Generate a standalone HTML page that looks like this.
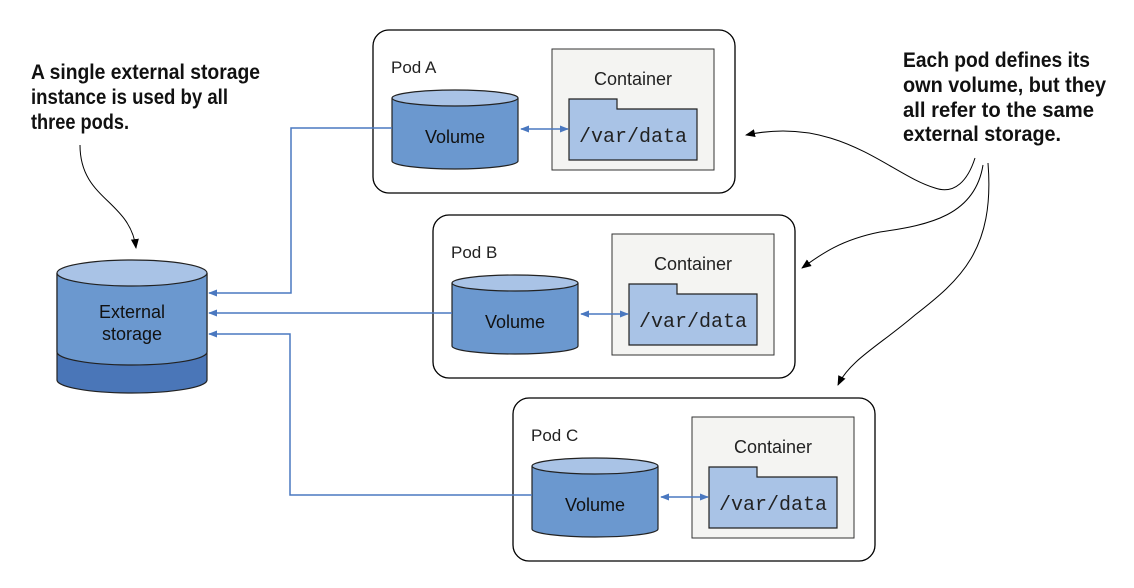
<!DOCTYPE html>
<html><head><meta charset="utf-8"><style>html,body{margin:0;padding:0;background:#fff}svg{display:block}</style></head>
<body>
<svg width="1134" height="588" viewBox="0 0 1134 588" xmlns="http://www.w3.org/2000/svg">
<defs>
<marker id="bh" viewBox="0 0 10 10" refX="9" refY="5" markerWidth="9" markerHeight="9" orient="auto-start-reverse" markerUnits="userSpaceOnUse"><path d="M0,1 L10,5 L0,9 z" fill="#4a78c0"/></marker>
<marker id="kh" viewBox="0 0 10 10" refX="9" refY="5" markerWidth="10" markerHeight="10" orient="auto" markerUnits="userSpaceOnUse"><path d="M0,1 L10,5 L0,9 z" fill="#000"/></marker>
</defs>

<g transform="translate(373,30)">
 <rect x="0" y="0" width="362" height="163" rx="16" fill="#fff" stroke="#000" stroke-width="1.3"/>
 <rect x="179" y="19" width="162" height="121" fill="#f4f4f2" stroke="#333" stroke-width="1"/>
 <path d="M196,69 H244 V79 H324 V130 H196 Z" fill="#a9c3e6" stroke="#222" stroke-width="1.2"/>
 <path d="M19,68 V131 A63,8 0 0 0 145,131 V68" fill="#6b98cf" stroke="#222" stroke-width="1.2"/>
 <ellipse cx="82" cy="68" rx="63" ry="8" fill="#a9c3e6" stroke="#222" stroke-width="1.2"/>
 <line x1="148" y1="99" x2="195" y2="99" stroke="#4a78c0" stroke-width="1.5" marker-start="url(#bh)" marker-end="url(#bh)"/>
 <text x="18" y="43" font-family="Liberation Sans, sans-serif" font-size="17" fill="#222">Pod A</text>
 <text x="260" y="55" text-anchor="middle" font-family="Liberation Sans, sans-serif" font-size="18" fill="#222">Container</text>
 <text x="82" y="113" text-anchor="middle" font-family="Liberation Sans, sans-serif" font-size="18" fill="#111">Volume</text>
 <text x="260" y="112" text-anchor="middle" font-family="Liberation Mono, monospace" font-size="20" fill="#222">/var/data</text>
</g>
<g transform="translate(433,215)">
 <rect x="0" y="0" width="362" height="163" rx="16" fill="#fff" stroke="#000" stroke-width="1.3"/>
 <rect x="179" y="19" width="162" height="121" fill="#f4f4f2" stroke="#333" stroke-width="1"/>
 <path d="M196,69 H244 V79 H324 V130 H196 Z" fill="#a9c3e6" stroke="#222" stroke-width="1.2"/>
 <path d="M19,68 V131 A63,8 0 0 0 145,131 V68" fill="#6b98cf" stroke="#222" stroke-width="1.2"/>
 <ellipse cx="82" cy="68" rx="63" ry="8" fill="#a9c3e6" stroke="#222" stroke-width="1.2"/>
 <line x1="148" y1="99" x2="195" y2="99" stroke="#4a78c0" stroke-width="1.5" marker-start="url(#bh)" marker-end="url(#bh)"/>
 <text x="18" y="43" font-family="Liberation Sans, sans-serif" font-size="17" fill="#222">Pod B</text>
 <text x="260" y="55" text-anchor="middle" font-family="Liberation Sans, sans-serif" font-size="18" fill="#222">Container</text>
 <text x="82" y="113" text-anchor="middle" font-family="Liberation Sans, sans-serif" font-size="18" fill="#111">Volume</text>
 <text x="260" y="112" text-anchor="middle" font-family="Liberation Mono, monospace" font-size="20" fill="#222">/var/data</text>
</g>
<g transform="translate(513,398)">
 <rect x="0" y="0" width="362" height="163" rx="16" fill="#fff" stroke="#000" stroke-width="1.3"/>
 <rect x="179" y="19" width="162" height="121" fill="#f4f4f2" stroke="#333" stroke-width="1"/>
 <path d="M196,69 H244 V79 H324 V130 H196 Z" fill="#a9c3e6" stroke="#222" stroke-width="1.2"/>
 <path d="M19,68 V131 A63,8 0 0 0 145,131 V68" fill="#6b98cf" stroke="#222" stroke-width="1.2"/>
 <ellipse cx="82" cy="68" rx="63" ry="8" fill="#a9c3e6" stroke="#222" stroke-width="1.2"/>
 <line x1="148" y1="99" x2="195" y2="99" stroke="#4a78c0" stroke-width="1.5" marker-start="url(#bh)" marker-end="url(#bh)"/>
 <text x="18" y="43" font-family="Liberation Sans, sans-serif" font-size="17" fill="#222">Pod C</text>
 <text x="260" y="55" text-anchor="middle" font-family="Liberation Sans, sans-serif" font-size="18" fill="#222">Container</text>
 <text x="82" y="113" text-anchor="middle" font-family="Liberation Sans, sans-serif" font-size="18" fill="#111">Volume</text>
 <text x="260" y="112" text-anchor="middle" font-family="Liberation Mono, monospace" font-size="20" fill="#222">/var/data</text>
</g>

<path d="M57,273 V380 A75,13 0 0 0 207,380 V273" fill="#4a76b8" stroke="#222" stroke-width="1.2"/>
<path d="M57,273 V352 A75,13 0 0 0 207,352 V273" fill="#6b98cf" stroke="#222" stroke-width="1.2"/>
<ellipse cx="132" cy="273" rx="75" ry="13" fill="#a9c3e6" stroke="#222" stroke-width="1.2"/>
<text x="132" y="318" text-anchor="middle" font-family="Liberation Sans, sans-serif" font-size="18" fill="#111">External</text>
<text x="132" y="340" text-anchor="middle" font-family="Liberation Sans, sans-serif" font-size="18" fill="#111">storage</text>

<g fill="none" stroke="#4a78c0" stroke-width="1.5">
 <path d="M392,128 H291 V293 H209" marker-end="url(#bh)"/>
 <path d="M452,313 H209" marker-end="url(#bh)"/>
 <path d="M532,495 H290 V334 H209" marker-end="url(#bh)"/>
</g>

<g font-family="Liberation Sans, sans-serif" font-weight="bold" font-size="21" fill="#111">
 <text x="31" y="79" textLength="229" lengthAdjust="spacingAndGlyphs">A single external storage</text>
 <text x="31" y="104" textLength="197" lengthAdjust="spacingAndGlyphs">instance is used by all</text>
 <text x="31" y="129" textLength="98" lengthAdjust="spacingAndGlyphs">three pods.</text>
 <text x="903" y="67" textLength="187" lengthAdjust="spacingAndGlyphs">Each pod defines its</text>
 <text x="903" y="92" textLength="203" lengthAdjust="spacingAndGlyphs">own volume, but they</text>
 <text x="903" y="117" textLength="191" lengthAdjust="spacingAndGlyphs">all refer to the same</text>
 <text x="903" y="141" textLength="158" lengthAdjust="spacingAndGlyphs">external storage.</text>
</g>
<g fill="none" stroke="#000" stroke-width="1">
 <path d="M80,145 C80,200 130,200 136,248" marker-end="url(#kh)"/>
 <path d="M975,158 C968,180 955,195 935,188 C890,175 840,115 746,135" marker-end="url(#kh)"/>
 <path d="M983,165 C975,215 930,225 880,232 C840,240 820,255 802,268" marker-end="url(#kh)"/>
 <path d="M988,163 C995,250 960,280 915,315 C880,345 850,360 838,385" marker-end="url(#kh)"/>
</g>
</svg>
</body></html>
